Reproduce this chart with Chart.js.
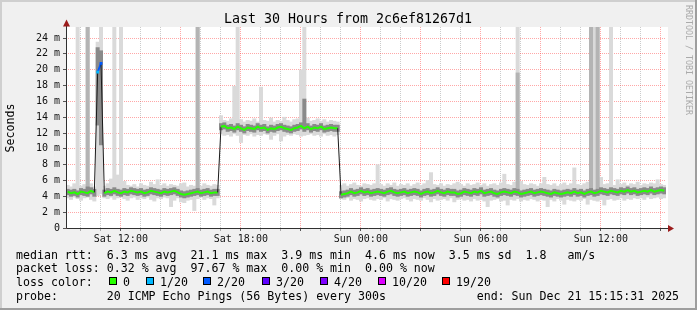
<!DOCTYPE html>
<html>
<head>
<meta charset="utf-8">
<script src="https://cdn.jsdelivr.net/npm/chart.js@4.4.1/dist/chart.umd.min.js"></script>
<style>
  html, body { margin: 0; padding: 0; background: #f0f0f0; }
  #wrap { width: 697px; height: 310px; }
</style>
</head>
<body>
<div id="wrap"><canvas id="pingChart" width="697" height="310"></canvas></div>
<script>
// Smokeping style latency graph, last 30 hours
const startHour = 9 + 15 / 60 + 31 / 3600;   // Sat 09:15:31 as hours since Sat 00:00
const stepHours = 10 / 60;                   // one sample every 10 minutes
const spanHours = 30;

// x axis ticks
const xLabelHours = [12, 18, 24, 30, 36];
const xLabels = ['Sat 12:00', 'Sat 18:00', 'Sun 00:00', 'Sun 06:00', 'Sun 12:00'];
// y axis ticks (ms)
const yLabelValues = [0, 2, 4, 6, 8, 10, 12, 14, 16, 18, 20, 22, 24];
const yLabels = ['0', '2 m', '4 m', '6 m', '8 m', '10 m', '12 m', '14 m', '16 m', '18 m', '20 m', '22 m', '24 m'];

// median rtt (ms), one value per sample
const medianMs = [
  4.6, 4.4, 4.5, 4.3, 4.6, 4.5, 4.4, 4.7, 4.5,
  19.7, 20.8,
  4.4, 4.6, 4.5, 4.7, 4.5, 4.4, 4.6, 4.5, 4.7, 4.6,
  4.5, 4.6, 4.4, 4.5, 4.7, 4.6, 4.5, 4.4, 4.6, 4.5,
  4.6, 4.7, 4.5, 4.3, 4.2, 4.3, 4.4, 4.5, 4.6, 4.4,
  4.5, 4.6, 4.4, 4.5, 4.5,
  12.8, 12.9, 12.6, 12.7, 12.5, 12.8, 12.6, 12.4, 12.7, 12.6,
  12.5, 12.8, 12.6, 12.7, 12.4, 12.6, 12.5, 12.7, 12.8, 12.6,
  12.5, 12.4, 12.6, 12.7, 12.9, 12.6, 12.8, 12.5, 12.7, 12.6,
  12.8, 12.5, 12.6, 12.7, 12.6, 12.6,
  4.2, 4.3, 4.4, 4.6, 4.4, 4.5, 4.7, 4.5, 4.6, 4.4,
  4.5, 4.6, 4.5, 4.4, 4.6, 4.7, 4.5, 4.4, 4.5, 4.6,
  4.4, 4.5, 4.6, 4.5, 4.3, 4.5, 4.6, 4.4, 4.5, 4.7,
  4.5, 4.4, 4.6, 4.5, 4.5, 4.3, 4.4, 4.6, 4.5, 4.4,
  4.6, 4.5, 4.7, 4.4, 4.5, 4.6, 4.4, 4.3, 4.5, 4.6,
  4.5, 4.4, 4.6, 4.5, 4.3, 4.4, 4.5, 4.6, 4.4, 4.5,
  4.6, 4.5, 4.4, 4.3, 4.5, 4.4, 4.3, 4.4, 4.5, 4.4,
  4.6, 4.4, 4.5, 4.3, 4.5, 4.6, 4.4, 4.5, 4.7, 4.6,
  4.5, 4.7, 4.6, 4.5, 4.7, 4.6, 4.8, 4.6, 4.7, 4.5,
  4.6, 4.7, 4.6, 4.8, 4.6, 4.7, 4.8, 4.7
];

// samples with packet loss (index, loss bucket)
const lossAt = [9, 10];
const lossBucket = [1, 2];

// light smoke: lowest / highest ping per sample (ms)
const smokeLo = [
  3.8, 3.6, 3.9, 3.7, 3.5, 3.8, 3.9, 3.6, 3.4,
  4.1, 4.3,
  3.8, 3.7, 3.9, 3.6, 3.8, 3.9, 3.7, 3.5, 3.8, 3.9,
  3.6, 3.8, 3.7, 3.9, 3.6, 3.4, 3.8, 3.7, 3.9, 3.8,
  2.7, 3.5, 3.8, 3.3, 3.2, 3.5, 3.6, 2.2, 3.7, 3.9,
  3.6, 3.8, 3.7, 2.9, 3.8,
  11.9, 11.7, 11.8, 11.6, 11.9, 11.7, 10.8, 11.8, 11.7, 11.9,
  11.6, 11.8, 11.7, 11.9, 11.8, 11.2, 11.7, 11.9, 11.0, 11.6,
  11.8, 11.7, 11.9, 11.8, 11.6, 11.7, 11.8, 11.9, 11.7, 11.8,
  11.6, 11.9, 11.7, 11.8, 11.6, 11.8,
  3.7, 3.6, 3.8, 3.5, 3.7, 3.6, 3.4, 3.7, 3.8, 3.6,
  3.5, 3.7, 3.6, 3.8, 3.4, 3.7, 3.6, 3.5, 3.7, 3.8,
  3.6, 3.4, 3.7, 3.6, 3.5, 3.8, 3.6, 3.3, 3.7, 3.5,
  3.6, 3.7, 3.5, 3.8, 3.3, 3.6, 3.7, 3.5, 3.6, 3.4,
  3.7, 3.5, 3.6, 3.4, 2.7, 3.5, 3.6, 3.7, 3.4, 3.5,
  2.9, 3.6, 3.5, 3.7, 3.4, 3.6, 3.5, 3.7, 3.6, 3.4,
  3.6, 3.5, 2.7, 3.6, 3.4, 3.7, 3.5, 3.0, 3.6, 3.5,
  3.4, 3.6, 3.5, 3.7, 3.0, 3.6, 3.5, 3.4, 3.6, 2.9,
  3.6, 3.7, 3.5, 3.6, 3.8, 3.5, 3.7, 3.6, 3.8, 3.7,
  3.8, 3.6, 3.9, 3.7, 3.8, 3.9, 3.7, 3.8
];
const smokeHi = [
  5.4, 5.2, 5.6, 25.4, 5.3, 5.5, 25.4, 5.6, 5.2,
  23.5, 25.4,
  5.3, 5.6, 6.2, 25.4, 6.7, 25.4, 5.9, 5.4, 5.3, 5.5,
  5.2, 5.6, 5.4, 5.3, 5.8, 5.5, 6.1, 5.4, 5.6, 5.3,
  5.5, 5.4, 5.3, 5.6, 5.7, 5.2, 5.4, 5.3, 25.4, 5.3,
  5.6, 5.4, 5.3, 5.5, 5.4,
  14.2, 13.6, 13.5, 13.8, 17.9, 25.4, 13.7, 13.4, 13.6, 13.5,
  13.8, 13.4, 17.8, 13.6, 13.5, 13.9, 13.4, 13.6, 13.5, 14.0,
  13.6, 13.4, 13.7, 13.8, 20.0, 25.4, 13.9, 13.5, 13.6, 13.8,
  13.5, 13.7, 13.4, 13.6, 13.5, 13.4,
  5.4, 5.6, 5.3, 5.5, 5.7, 5.4, 5.3, 5.6, 5.5, 5.4,
  5.6, 8.0, 5.5, 5.3, 5.6, 5.4, 5.7, 5.3, 5.5, 5.4,
  5.6, 5.3, 5.5, 5.7, 5.4, 5.6, 6.0, 7.0, 5.5, 5.4,
  5.6, 5.3, 5.5, 5.4, 5.6, 5.8, 5.5, 5.3, 5.6, 5.4,
  5.5, 5.7, 5.4, 5.6, 5.3, 5.5, 5.6, 5.4, 5.7, 6.8,
  5.5, 5.4, 5.8, 25.4, 5.9, 5.5, 5.4, 5.6, 5.5, 5.3,
  5.6, 6.4, 5.5, 5.4, 5.6, 5.3, 5.5, 5.7, 5.4, 5.6,
  7.6, 5.5, 5.4, 5.6, 5.8, 25.4, 25.4, 25.4, 6.4, 5.5,
  5.6, 25.4, 5.4, 6.1, 5.5, 5.7, 5.4, 5.6, 5.5, 5.8,
  5.4, 5.6, 5.5, 5.7, 5.6, 6.1, 5.5, 5.4
];

// dark smoke: middle pings per sample (ms)
const coreLo = [
  4.2, 4.0, 4.1, 3.9, 4.2, 4.1, 4.0, 4.3, 4.0,
  13.0, 10.5,
  4.0, 4.2, 4.1, 4.3, 4.1, 4.0, 4.2, 4.1, 4.3, 4.2,
  4.1, 4.2, 4.0, 4.1, 4.3, 4.2, 4.1, 4.0, 4.2, 4.1,
  4.2, 4.3, 4.1, 3.9, 3.8, 3.9, 4.0, 4.1, 4.2, 4.0,
  4.1, 4.2, 4.0, 4.1, 4.1,
  12.4, 12.5, 12.2, 12.3, 12.1, 12.4, 12.2, 12.0, 12.3, 12.2,
  12.1, 12.4, 12.2, 12.3, 12.0, 12.2, 12.1, 12.3, 12.4, 12.2,
  12.1, 12.0, 12.2, 12.3, 12.5, 12.2, 12.4, 12.1, 12.3, 12.2,
  12.4, 12.1, 12.2, 12.3, 12.2, 12.2,
  3.8, 3.9, 4.0, 4.2, 4.0, 4.1, 4.3, 4.1, 4.2, 4.0,
  4.1, 4.2, 4.1, 4.0, 4.2, 4.3, 4.1, 4.0, 4.1, 4.2,
  4.0, 4.1, 4.2, 4.1, 3.9, 4.1, 4.2, 4.0, 4.1, 4.3,
  4.1, 4.0, 4.2, 4.1, 4.1, 3.9, 4.0, 4.2, 4.1, 4.0,
  4.2, 4.1, 4.3, 4.0, 4.1, 4.2, 4.0, 3.9, 4.1, 4.2,
  4.1, 4.0, 4.2, 4.1, 3.9, 4.0, 4.1, 4.2, 4.0, 4.1,
  4.2, 4.1, 4.0, 3.9, 4.1, 4.0, 3.9, 4.0, 4.1, 4.0,
  4.2, 4.0, 4.1, 3.9, 4.1, 4.2, 4.0, 4.1, 4.3, 4.2,
  4.1, 4.3, 4.2, 4.1, 4.3, 4.2, 4.4, 4.2, 4.3, 4.1,
  4.2, 4.3, 4.2, 4.4, 4.2, 4.3, 4.4, 4.3
];
const coreHi = [
  4.9, 4.8, 4.9, 4.7, 5.0, 4.9, 5.2, 5.1, 4.9,
  22.8, 22.4,
  4.8, 5.0, 4.9, 5.1, 4.9, 4.8, 5.0, 4.9, 5.1, 5.0,
  4.9, 5.0, 4.8, 4.9, 5.1, 5.0, 4.9, 4.8, 5.0, 4.9,
  5.0, 5.1, 4.9, 4.7, 4.6, 4.7, 4.8, 4.9, 5.0, 4.8,
  4.9, 5.0, 4.8, 4.9, 4.9,
  13.2, 13.3, 13.0, 13.1, 12.9, 13.2, 13.0, 12.8, 13.1, 13.0,
  12.9, 13.2, 13.0, 13.1, 12.8, 13.0, 12.9, 13.1, 13.2, 13.0,
  12.9, 12.8, 13.0, 13.1, 13.3, 16.3, 13.2, 12.9, 13.1, 13.0,
  13.2, 12.9, 13.0, 13.1, 13.0, 13.0,
  4.6, 4.7, 4.8, 5.0, 4.8, 4.9, 5.1, 4.9, 5.0, 4.8,
  4.9, 5.0, 4.9, 4.8, 5.0, 5.1, 4.9, 4.8, 4.9, 5.0,
  4.8, 4.9, 5.0, 4.9, 4.7, 4.9, 5.0, 4.8, 4.9, 5.1,
  4.9, 4.8, 5.0, 4.9, 4.9, 4.7, 4.8, 5.0, 4.9, 4.8,
  5.0, 4.9, 5.1, 4.8, 4.9, 5.0, 4.8, 4.7, 4.9, 5.0,
  4.9, 4.8, 5.0, 4.9, 4.7, 4.8, 4.9, 5.0, 4.8, 4.9,
  5.0, 4.9, 4.8, 4.7, 4.9, 4.8, 4.7, 4.8, 4.9, 4.8,
  5.0, 4.8, 4.9, 4.7, 4.9, 5.0, 4.8, 4.9, 5.1, 5.0,
  4.9, 5.1, 5.0, 4.9, 5.1, 5.0, 5.2, 5.0, 5.1, 4.9,
  5.0, 5.1, 5.0, 5.2, 5.0, 5.1, 5.2, 5.1
];

// medium grey columns (samples where many pings were slow)
const burstAt = [6, 39, 135, 157, 159];
const burstLo = [4.8, 4.9, 4.9, 4.9, 4.9];
const burstHi = [25.4, 25.4, 19.6, 25.4, 25.4];

// loss legend
const lossLabels = ['0', '1/20', '2/20', '3/20', '4/20', '10/20', '19/20'];
const lossColors = ['#26ff00', '#00b8ff', '#0059ff', '#5e00ff', '#7e00ff', '#dd00ff', '#ff0000'];

const MONO = '"DejaVu Sans Mono", monospace';

function sampleHour(i) {
  return startHour + (i + 0.5) * stepHours;
}

const medianPts = medianMs.map((v, i) => ({ x: sampleHour(i), y: v }));
const smokePts = smokeLo.map((v, i) => ({ x: sampleHour(i), y: [v, smokeHi[i]] }));
const corePts = coreLo.map((v, i) => ({ x: sampleHour(i), y: [v, coreHi[i]] }));
const burstPts = burstAt.map((idx, k) => ({ x: sampleHour(idx), y: [burstLo[k], burstHi[k]] }));
const lossPts = lossAt.map(idx => ({ x: sampleHour(idx), y: medianMs[idx] }));

function lossColorAt(idx) {
  const k = lossAt.indexOf(idx);
  return k >= 0 ? lossColors[lossBucket[k]] : lossColors[0];
}
function isJump(ctx) {
  return Math.abs(ctx.p1.parsed.y - ctx.p0.parsed.y) > 3;
}

// background, frame, axes, arrows and all the rrdtool texts
const rrdFrame = {
  id: 'rrdFrame',
  beforeDraw(chart) {
    const c = chart.ctx, a = chart.chartArea;
    c.save();
    c.fillStyle = '#f0f0f0';
    c.fillRect(0, 0, 697, 310);
    c.fillStyle = '#cfcfcf';
    c.fillRect(0, 0, 697, 2);
    c.fillRect(0, 0, 2, 310);
    c.fillStyle = '#9e9e9e';
    c.fillRect(0, 308, 697, 2);
    c.fillRect(695, 0, 2, 310);
    c.fillStyle = '#ffffff';
    c.fillRect(a.left, a.top, a.right - a.left + 2, a.bottom - a.top);
    c.restore();
  },
  afterDraw(chart) {
    const c = chart.ctx, a = chart.chartArea;
    c.save();
    // axes
    c.strokeStyle = '#303030';
    c.lineWidth = 1;
    c.beginPath();
    c.moveTo(a.left + 0.5, 22);
    c.lineTo(a.left + 0.5, a.bottom + 0.5);
    c.lineTo(a.right + 4, a.bottom + 0.5);
    c.stroke();
    c.fillStyle = '#9b1c1c';
    c.beginPath();
    c.moveTo(a.left + 0.5, 19.5);
    c.lineTo(a.left - 3, 26.5);
    c.lineTo(a.left + 4, 26.5);
    c.closePath();
    c.fill();
    c.beginPath();
    c.moveTo(a.right + 8, a.bottom + 0.5);
    c.lineTo(a.right + 2, a.bottom - 3);
    c.lineTo(a.right + 2, a.bottom + 4);
    c.closePath();
    c.fill();

    // title
    c.fillStyle = '#000';
    c.font = '13.3px ' + MONO;
    c.textAlign = 'center';
    c.textBaseline = 'alphabetic';
    c.fillText('Last 30 Hours from 2c6ef81267d1', 348, 23);

    // y title
    c.font = '11.6px ' + MONO;
    c.save();
    c.translate(11, 128);
    c.rotate(-Math.PI / 2);
    c.textBaseline = 'middle';
    c.fillText('Seconds', 0, 0);
    c.restore();

    // watermark
    c.save();
    c.translate(688, 60);
    c.rotate(Math.PI / 2);
    c.font = '8.3px ' + MONO;
    c.fillStyle = '#aaaaaa';
    c.textBaseline = 'middle';
    c.fillText('RRDTOOL / TOBI OETIKER', 0, 0);
    c.restore();

    // legend
    c.font = '11.6px ' + MONO;
    c.textAlign = 'left';
    c.textBaseline = 'alphabetic';
    c.fillStyle = '#000';
    const cw = c.measureText('M').width;
    const x0 = 16;
    c.fillText('median rtt:  6.3 ms avg  21.1 ms max  3.9 ms min  4.6 ms now  3.5 ms sd  1.8   am/s', x0, 258.5);
    c.fillText('packet loss: 0.32 % avg  97.67 % max  0.00 % min  0.00 % now', x0, 272);
    c.fillText('loss color:', x0, 285.8);
    const boxX = [109, 146, 203, 262, 320, 378, 442];
    boxX.forEach((bx, k) => {
      c.fillStyle = lossColors[k];
      c.fillRect(bx + 0.5, 277.5, 7, 7);
      c.strokeStyle = '#000';
      c.strokeRect(bx + 0.5, 277.5, 7, 7);
      c.fillStyle = '#000';
      c.fillText(lossLabels[k], bx + 14, 285.8);
    });
    c.fillText('probe:       20 ICMP Echo Pings (56 Bytes) every 300s', x0, 299.5);
    c.fillText('end: Sun Dec 21 15:15:31 2025', x0 + 66 * cw, 299.5);
    c.restore();
  }
};

const gridMinor = 'rgba(140,140,140,0.45)';
const gridMajor = 'rgba(255,60,60,0.45)';

new Chart(document.getElementById('pingChart'), {
  type: 'bar',
  data: {
    datasets: [
      {
        type: 'line',
        label: 'loss',
        data: lossPts,
        showLine: false,
        pointStyle: 'rect',
        pointRadius: 2,
        pointBorderWidth: 0,
        pointBackgroundColor: lossBucket.map(b => lossColors[b]),
        order: 1
      },
      {
        type: 'line',
        label: 'median',
        data: medianPts,
        borderColor: lossColors[0],
        borderWidth: 2,
        pointRadius: 0,
        tension: 0,
        order: 2,
        segment: {
          borderColor: ctx => isJump(ctx) ? '#1a1a1a' : lossColorAt(ctx.p1DataIndex),
          borderWidth: ctx => isJump(ctx) ? 1 : 2
        }
      },
      {
        label: 'core',
        data: corePts,
        backgroundColor: '#8a8a8a',
        grouped: false,
        barPercentage: 1,
        categoryPercentage: 1,
        order: 3
      },
      {
        label: 'burst',
        data: burstPts,
        backgroundColor: '#b4b4b4',
        grouped: false,
        barPercentage: 1,
        categoryPercentage: 1,
        order: 4
      },
      {
        label: 'smoke',
        data: smokePts,
        backgroundColor: '#dadada',
        grouped: false,
        barPercentage: 1,
        categoryPercentage: 1,
        order: 5
      }
    ]
  },
  options: {
    responsive: false,
    animation: false,
    devicePixelRatio: 1,
    layout: { padding: { top: 27, right: 31, bottom: 62, left: 0 } },
    plugins: {
      legend: { display: false },
      tooltip: { enabled: false }
    },
    scales: {
      x: {
        type: 'linear',
        min: startHour,
        max: startHour + spanHours,
        offset: false,
        afterFit: s => { s.height = 20; },
        afterBuildTicks: s => {
          const t = [];
          for (let h = 10; h < startHour + spanHours; h++) t.push({ value: h });
          s.ticks = t;
        },
        ticks: {
          autoSkip: false,
          maxRotation: 0,
          padding: 2,
          color: '#111',
          font: { family: MONO, size: 10 },
          callback: v => {
            const k = xLabelHours.indexOf(v);
            return k >= 0 ? xLabels[k] : '';
          }
        },
        grid: {
          offset: false,
          color: ctx => ctx.tick && ctx.tick.value % 3 === 0 ? gridMajor : gridMinor,
          tickColor: ctx => ctx.tick && ctx.tick.value % 3 === 0 ? '#555' : '#aaa',
          tickLength: 3,
          tickBorderDash: []
        },
        border: { display: false, dash: [1, 1] }
      },
      y: {
        min: 0,
        max: 25.4,
        afterFit: s => { s.width = 66; },
        afterBuildTicks: s => {
          const t = [];
          for (let v = 0; v <= 25; v++) t.push({ value: v });
          s.ticks = t;
        },
        ticks: {
          padding: 3,
          color: '#111',
          font: { family: MONO, size: 10 },
          callback: v => {
            const k = yLabelValues.indexOf(v);
            return k >= 0 ? yLabels[k] : '';
          }
        },
        grid: {
          color: ctx => ctx.tick && ctx.tick.value % 2 === 0 ? gridMajor : gridMinor,
          tickColor: ctx => ctx.tick && ctx.tick.value % 2 === 0 ? '#555' : '#aaa',
          tickLength: 3,
          tickBorderDash: []
        },
        border: { display: false, dash: [1, 1] }
      }
    }
  },
  plugins: [rrdFrame]
});
</script>
</body>
</html>
